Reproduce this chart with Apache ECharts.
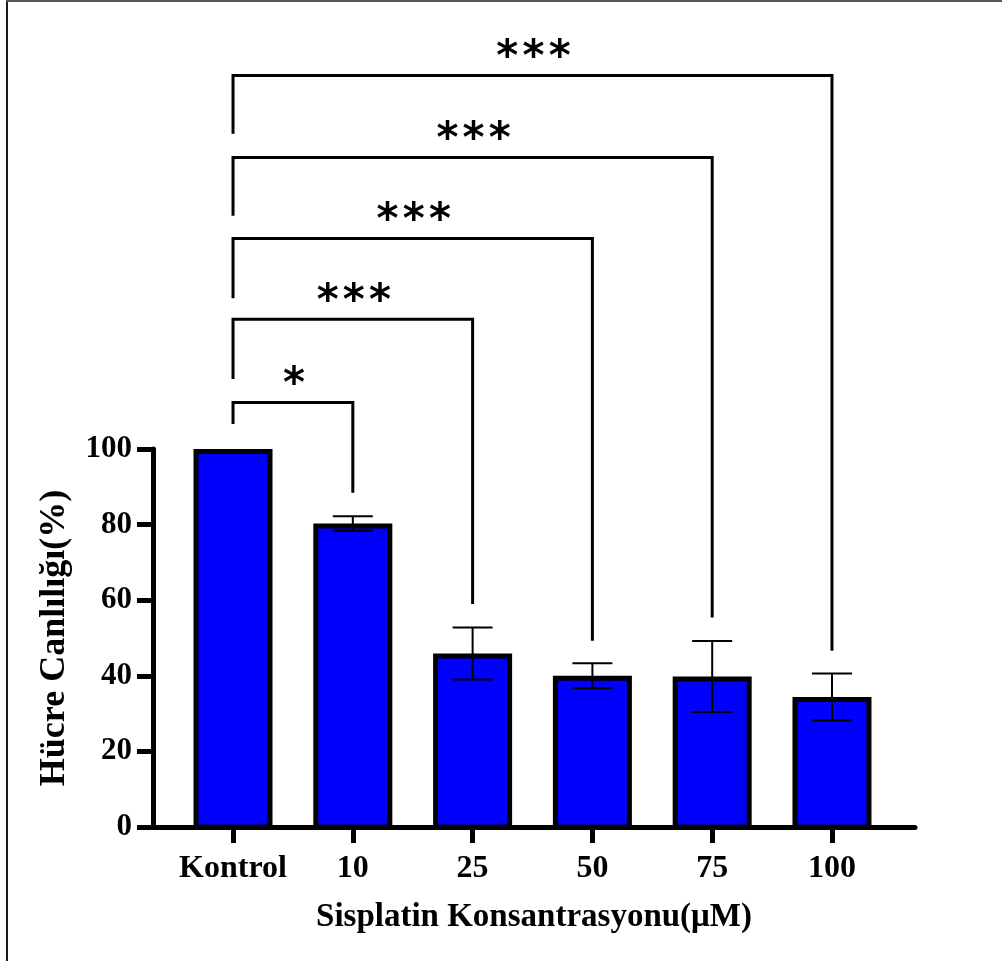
<!DOCTYPE html>
<html>
<head>
<meta charset="utf-8">
<script src="https://cdn.jsdelivr.net/npm/echarts@6/dist/echarts.min.js"></script>
<style>
html,body{margin:0;padding:0;background:#fff;}
#chart{width:1002px;height:961px;}
</style>
</head>
<body>
<div id="chart"></div>
<script>
// ---- data ----
const categories = ['Kontrol', '10', '25', '50', '75', '100'];
const means = [100, 80.3, 45.9, 40.0, 39.8, 34.4];
const sds = [0, 1.9, 6.9, 3.3, 9.4, 6.2];
const yTickValues = [0, 20, 40, 60, 80, 100];
// significance brackets: Kontrol (index 0) vs target index
const bracketTargets = [1, 2, 3, 4, 5];
const bracketHeights = [112.3, 134.3, 155.7, 177.1, 198.8];
const bracketLeftEnds = [106.6, 118.5, 139.9, 161.7, 183.4];
const bracketRightEnds = [88.4, 59.0, 49.3, 55.4, 46.6];
const sigLabels = ['*', '***', '***', '***', '***'];

const serif = '"Liberation Serif", "Times New Roman", serif';

const barData = categories.map((c, i) => [i, means[i]]);
const errData = categories.map((c, i) => [i, means[i], sds[i]]);
const bracketData = bracketTargets.map((t, k) => [0, t, bracketHeights[k], bracketLeftEnds[k], bracketRightEnds[k]]);

const chart = echarts.init(document.getElementById('chart'), null, {renderer: 'canvas'});
chart.setOption({
  animation: false,
  backgroundColor: '#ffffff',
  grid: {left: 153, right: 87, top: 449, bottom: 134, containLabel: false},
  xAxis: {
    type: 'value',
    min: -0.668,
    max: 5.693,
    name: 'Sisplatin Konsantrasyonu(μM)',
    nameLocation: 'middle',
    nameGap: 74,
    nameTextStyle: {fontFamily: serif, fontWeight: 'bold', fontSize: 33, color: '#000'},
    axisLine: {show: true, onZero: false, lineStyle: {color: '#000', width: 5}},
    axisTick: {show: true, customValues: categories.map((c, i) => i), length: 16, lineStyle: {color: '#000', width: 5}},
    axisLabel: {show: true, customValues: categories.map((c, i) => i), margin: 26,
      formatter: v => categories[Math.round(v)],
      fontFamily: serif, fontWeight: 'bold', fontSize: 32, color: '#000'},
    splitLine: {show: false}
  },
  yAxis: {
    type: 'value',
    min: 0,
    max: 100,
    interval: 20,
    name: 'Hücre Canlılığı(%)',
    nameLocation: 'middle',
    nameGap: 80,
    nameTextStyle: {fontFamily: serif, fontWeight: 'bold', fontSize: 36, color: '#000'},
    axisLine: {show: true, onZero: false, lineStyle: {color: '#000', width: 5}},
    axisTick: {show: true, customValues: yTickValues, length: 16, lineStyle: {color: '#000', width: 5}},
    axisLabel: {show: true, customValues: yTickValues, margin: 21,
      fontFamily: serif, fontWeight: 'bold', fontSize: 31, color: '#000'},
    splitLine: {show: false}
  },
  graphic: [
    {type: 'rect', shape: {x: 6, y: 0, width: 2, height: 961}, style: {fill: '#1a1a1a'}, silent: true},
    {type: 'rect', shape: {x: 6, y: 0, width: 996, height: 2}, style: {fill: '#555'}, silent: true}
  ],
  series: [
    {
      type: 'custom',
      name: 'bars',
      clip: false,
      z: 1,
      data: barData,
      encode: {x: 0, y: 1},
      renderItem: function (params, api) {
        const W = 79, B = 5;
        const top = api.coord([api.value(0), api.value(1)]);
        const base = api.coord([api.value(0), 0]);
        return {
          type: 'rect',
          shape: {x: top[0] - W / 2 + B / 2, y: top[1] + B / 2, width: W - B, height: base[1] - top[1] - B / 2},
          style: {fill: '#0000ff', stroke: '#000', lineWidth: B}
        };
      }
    },
    {
      type: 'custom',
      name: 'errors',
      clip: false,
      z: 3,
      data: errData,
      encode: {x: 0, y: 1},
      renderItem: function (params, api) {
        const x = api.value(0), m = api.value(1), s = api.value(2);
        if (!s) return null;
        const hi = api.coord([x, m + s]);
        const lo = api.coord([x, m - s]);
        const C = 20;
        const st = {stroke: '#000', lineWidth: 2};
        return {
          type: 'group',
          children: [
            {type: 'line', shape: {x1: hi[0], y1: hi[1], x2: lo[0], y2: lo[1]}, style: st},
            {type: 'line', shape: {x1: hi[0] - C, y1: hi[1], x2: hi[0] + C, y2: hi[1]}, style: st},
            {type: 'line', shape: {x1: lo[0] - C, y1: lo[1], x2: lo[0] + C, y2: lo[1]}, style: st}
          ]
        };
      }
    },
    {
      type: 'custom',
      name: 'brackets',
      clip: false,
      z: 4,
      data: bracketData,
      encode: {x: [0, 1], y: 2},
      renderItem: function (params, api) {
        const a = api.value(0), b = api.value(1), h = api.value(2), le = api.value(3), re = api.value(4);
        const pA = api.coord([a, h]);
        const pB = api.coord([b, h]);
        const pL = api.coord([a, le]);
        const pR = api.coord([b, re]);
        const st = {stroke: '#000', lineWidth: 3, lineJoin: 'miter', fill: null};
        return {
          type: 'group',
          children: [
            {type: 'polyline', shape: {points: [[pL[0], pL[1]], [pA[0], pA[1]], [pB[0], pB[1]], [pR[0], pR[1]]]}, style: st},
            {type: 'text', x: (pA[0] + pB[0]) / 2 + 1, y: pA[1] - 16,
              style: {text: sigLabels[params.dataIndex].split('').join('\u200A'), fontFamily: '"DejaVu Sans", sans-serif', fontWeight: 'bold', fontSize: 42,
                fill: '#000', align: 'center', verticalAlign: 'middle'}}
          ]
        };
      }
    }
  ]
});
</script>
</body>
</html>
